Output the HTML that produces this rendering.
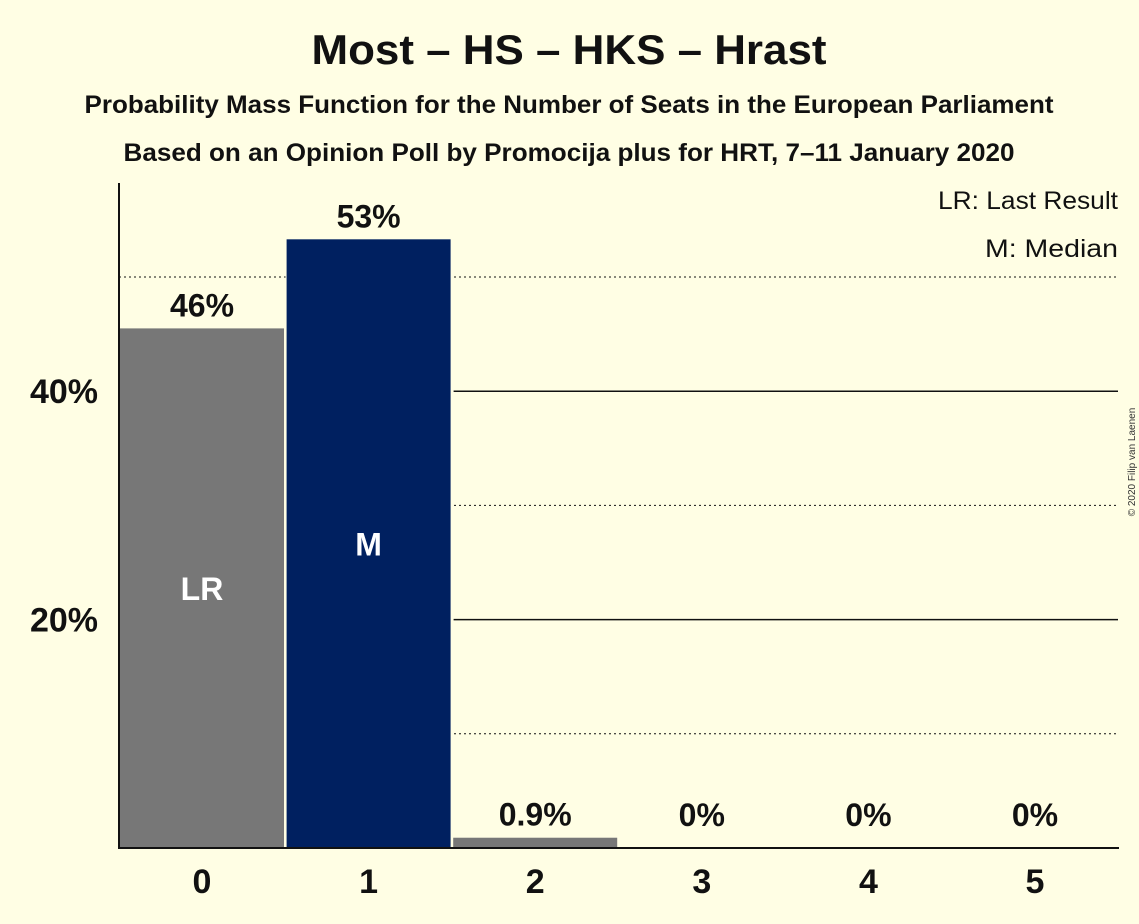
<!DOCTYPE html>
<html><head><meta charset="utf-8"><style>
body{margin:0;background:#FFFEE4;}
svg{display:block;font-family:"Liberation Sans",sans-serif;}
</style></head><body>
<svg width="1139" height="924" viewBox="0 0 1139 924">
<rect width="1139" height="924" fill="#FFFEE4"/>
<text x="569" y="64" text-anchor="middle" font-size="42" font-weight="bold" fill="#111" textLength="515" lengthAdjust="spacingAndGlyphs">Most – HS – HKS – Hrast</text>
<text x="569" y="113" text-anchor="middle" font-size="25" font-weight="bold" fill="#111" textLength="969" lengthAdjust="spacingAndGlyphs">Probability Mass Function for the Number of Seats in the European Parliament</text>
<text x="569" y="161" text-anchor="middle" font-size="25" font-weight="bold" fill="#111" textLength="891" lengthAdjust="spacingAndGlyphs">Based on an Opinion Poll by Promocija plus for HRT, 7–11 January 2020</text>
<text x="1118" y="209" text-anchor="end" font-size="25" fill="#111" textLength="180" lengthAdjust="spacingAndGlyphs">LR: Last Result</text>
<text x="1118" y="257" text-anchor="end" font-size="25" fill="#111" textLength="133" lengthAdjust="spacingAndGlyphs">M: Median</text>
<text transform="translate(1135,462) rotate(-90)" text-anchor="middle" font-size="10" fill="#333">© 2020 Filip van Laenen</text>
<g id="grid"></g>
<g id="bars"></g>
<g id="labels"></g>
<line x1="119" y1="183" x2="119" y2="848" stroke="#111" stroke-width="2"/>
<line x1="118" y1="848" x2="1119" y2="848" stroke="#111" stroke-width="2"/>
</svg>
<script>
const seats=[0,1,2,3,4,5];
const probs=[45.5,53.3,0.9,0,0,0];
const valueLabels=["46%","53%","0.9%","0%","0%","0%"];
const barColors=["#777777","#002060","#777777","#777777","#777777","#777777"];
const barText=["LR","M","","","",""];
const gridValues=[10,20,30,40,50];
const tickLabels=["","20%","","40%",""];
const NS="http://www.w3.org/2000/svg";
const y=v=>848-v*11.42;
const x0=s=>119+s*166.6;
function mk(tag,attrs,parent){const e=document.createElementNS(NS,tag);for(const k in attrs)e.setAttribute(k,attrs[k]);document.getElementById(parent).appendChild(e);return e;}
gridValues.forEach((g,i)=>{
  const solid=g%20===0;
  const l=mk('line',{x1:119,x2:1118,y1:y(g),y2:y(g),stroke:'#111','stroke-width':solid?1.5:1,'stroke-dasharray':solid?'':'2,3'},'grid');
  
  
  if(tickLabels[i]){const t=mk('text',{x:98,y:y(g)+12,'text-anchor':'end','font-size':34,'font-weight':'bold',fill:'#111'},'labels');t.textContent=tickLabels[i];
  
  }
});
seats.forEach((s,i)=>{
  const bg=mk('rect',{x:x0(s),y:y(probs[i]),width:168,height:848-y(probs[i]),fill:'#FFFEE4'},'bars');
  
  
  const r=mk('rect',{x:x0(s)+1,y:y(probs[i]),width:164,height:848-y(probs[i]),fill:barColors[i]},'bars');
  
  
  const cx=x0(s)+83;
  const t=mk('text',{x:cx,y:Math.min(y(probs[i]),838)-12,'text-anchor':'middle','font-size':32,'font-weight':'bold',fill:'#111'},'labels');t.textContent=valueLabels[i];
  
  
  const xt=mk('text',{x:cx,y:893,'text-anchor':'middle','font-size':34,'font-weight':'bold',fill:'#111'},'labels');xt.textContent=s;
  
  
  if(barText[i]){const bt=mk('text',{x:cx,y:(y(probs[i])+848)/2+12,'text-anchor':'middle','font-size':32,'font-weight':'bold',fill:'#fff'},'labels');bt.textContent=barText[i];
  
  }
});
</script>
</body></html>
